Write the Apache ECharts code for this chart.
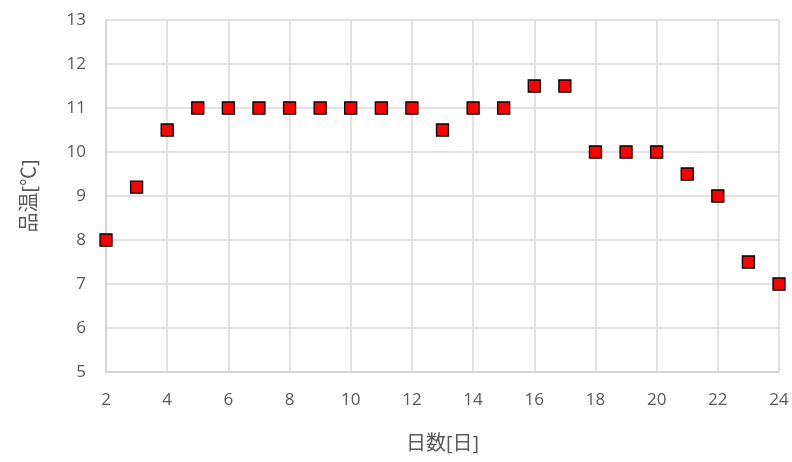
<!DOCTYPE html>
<html>
<head>
<meta charset="utf-8">
<script src="https://cdn.jsdelivr.net/npm/echarts@6/dist/echarts.min.js"></script>
<style>
  html, body { margin: 0; padding: 0; background: #fff; }
  #chart { width: 792px; height: 462px; }
</style>
</head>
<body>
<div id="chart"></div>
<script>
// 日数と品温
var days = [2, 3, 4, 5, 6, 7, 8, 9, 10, 11, 12, 13, 14, 15, 16, 17, 18, 19, 20, 21, 22, 23, 24];
var temps = [8, 9.2, 10.5, 11, 11, 11, 11, 11, 11, 11, 11, 10.5, 11, 11, 11.5, 11.5, 10, 10, 10, 9.5, 9, 7.5, 7];

var points = days.map(function (d, i) { return [d, temps[i]]; });

var labelFont = '"Open Sans", "Noto Sans CJK JP", sans-serif';

var options = {
  animation: false,
  backgroundColor: '#fff',
  grid: { left: 106, right: 13, top: 20, bottom: 90 },
  xAxis: {
    type: 'value',
    min: 2, max: 24, interval: 2,
    name: '日数[日]',
    nameLocation: 'middle',
    nameGap: 62,
    nameTextStyle: { color: '#595959', fontSize: 20, fontFamily: labelFont },
    axisLine: { show: true, lineStyle: { color: '#d0d0d0', width: 1.5 } },
    axisTick: { show: false },
    axisLabel: { color: '#595959', fontSize: 17, margin: 20, fontFamily: labelFont },
    splitLine: { show: true, lineStyle: { color: '#d9d9d9', width: 1.5 } }
  },
  yAxis: {
    type: 'value',
    min: 5, max: 13, interval: 1,
    name: '品温[℃]',
    nameLocation: 'middle',
    nameGap: 66,
    nameRotate: 90,
    nameTextStyle: { color: '#595959', fontSize: 20, fontFamily: labelFont },
    axisLine: { show: true, lineStyle: { color: '#d0d0d0', width: 1.5 } },
    axisTick: { show: false },
    axisLabel: { color: '#595959', fontSize: 17, margin: 20, fontFamily: labelFont },
    splitLine: { show: true, lineStyle: { color: '#d9d9d9', width: 1.5 } }
  },
  series: [{
    type: 'scatter',
    data: points,
    symbol: 'rect',
    symbolSize: 12,
    itemStyle: { color: '#ff0000', opacity: 1, borderColor: '#000', borderWidth: 1.3 }
  }]
};

var chart = echarts.init(document.getElementById('chart'));
chart.setOption(options);
</script>
</body>
</html>
